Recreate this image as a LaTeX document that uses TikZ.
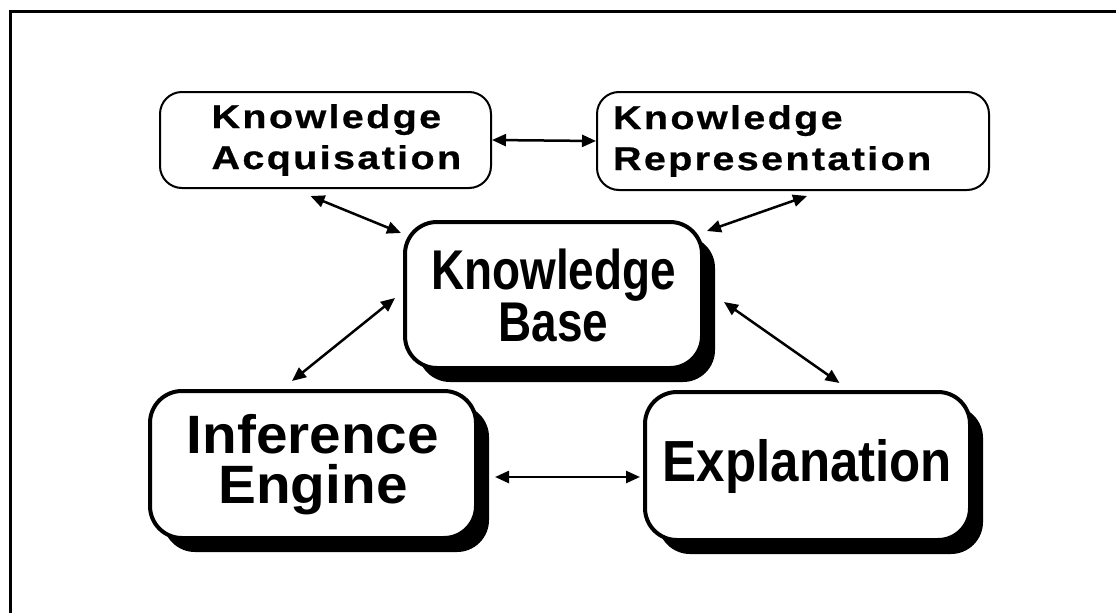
\documentclass[tikz,border=0pt]{standalone}
\usepackage{fontspec}
\setmainfont{Liberation Sans}
\usetikzlibrary{arrows.meta,shadows}
\newfontfamily\widefont[FakeStretch=1.2,LetterSpace=7,FakeBold=0.6]{Liberation Sans}
\newfontfamily\narrowfont[FakeStretch=0.82]{Liberation Sans}
\newfontfamily\midfont[FakeStretch=0.88]{Liberation Sans}
\newfontfamily\plainwide[FakeStretch=1.05]{Liberation Sans}
\begin{document}
\begin{tikzpicture}[x=1pt,y=-1pt,
  smallbox/.style={draw,line width=2pt,rounded corners=22pt,fill=white,
    align=left,inner sep=0pt,font=\widefont\bfseries\fontsize{33}{41}\selectfont},
  bigbox/.style={draw,line width=4pt,rounded corners=32pt,fill=white,
    align=center,inner sep=0pt,
    drop shadow={shadow xshift=13pt,shadow yshift=-14pt,fill=black,opacity=1}},
  link/.style={line width=2.5pt,{Triangle[length=14pt,width=12pt]}-{Triangle[length=14pt,width=12pt]}}]
\useasboundingbox (0,0) rectangle (1116,613);
% frame
\draw[line width=3pt] (10,613) -- (10,11) -- (1116,11);
% upper pair
\node[smallbox,minimum width=331pt,minimum height=96pt,text width=228pt] (ka) at (325.5,140)
  {Knowledge\\Acquisation};
\node[smallbox,minimum width=392pt,minimum height=98pt,text width=360pt] (kr) at (793,141)
  {Knowledge\\Representation};
% central and lower boxes
\node[bigbox,minimum width=297pt,minimum height=146pt,
  font=\narrowfont\bfseries\fontsize{56}{52}\selectfont] (kb) at (553.5,295)
  {Knowledge\\Base};
\node[bigbox,minimum width=326pt,minimum height=147pt,
  font=\plainwide\bfseries\fontsize{54}{50}\selectfont] (ie) at (313,464.5)
  {Inference\\Engine};
\node[bigbox,minimum width=325pt,minimum height=148pt,
  font=\midfont\bfseries\fontsize{58}{58}\selectfont] (ex) at (807.5,466)
  {Explanation};
% connectors
\draw[link] (ka.east) -- (kr.west);
\draw[link] ([shift={(-15,7)}]ka.south) -- ([shift={(-2,13)}]kb.north west);
\draw[link] ([shift={(14,5)}]kr.south) -- ([shift={(3,11)}]kb.north east);
\draw[link] ([shift={(-21,-8)}]ie.north) -- ([shift={(-8,3)}]kb.west);
\draw[link] ([shift={(20,7)}]kb.east) -- ([shift={(32,-7)}]ex.north);
\draw[link] ([shift={(17,12.5)}]ie.east) -- ([shift={(-3,11)}]ex.west);
\end{tikzpicture}
\end{document}
